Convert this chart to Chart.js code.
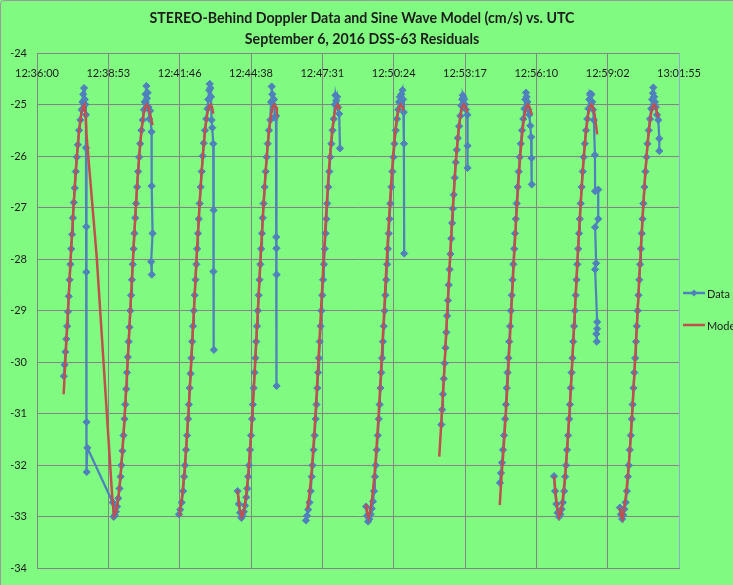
<!DOCTYPE html>
<html lang="en">

<head>
    <meta charset="UTF-8">
    <title>STEREO-Behind Doppler Residuals</title>
    <style>
        body {
            margin: 0;
            background: #80fa80;
            overflow: hidden;
        }

        canvas {
            display: block;
        }
    </style>
</head>

<body>
    <canvas id="doppler" width="733" height="585"></canvas>

    <script src="https://cdn.jsdelivr.net/npm/chart.js"></script>
    <script>
        // Time is seconds after 12:36:00 UTC, value is residual in cm/s.
        // Passes 1 and 2 have no blank row between them in the sheet.
        const dataPass1 = [[65, -30.27], [67, -30.05], [69, -29.8], [71, -29.55], [73, -29.3], [75, -29.02], [77, -28.72], [79, -28.4], [81, -28.1], [83, -27.8], [85, -27.52], [87, -27.2], [89, -26.9], [91.5, -26.62], [94, -26.3], [96.5, -26.02], [99, -25.78], [102, -25.5], [105, -25.3], [108, -25.1], [110, -24.95], [112, -24.8], [114, -24.68], [115.5, -24.9], [117, -25.0], [118.5, -25.2], [118.7, -25.84], [119.5, -27.37], [119.5, -28.25], [120, -31.16], [120.5, -32.13], [122, -31.66]];
        const dataPass2 = [[183.5, -32.72], [186, -33.0], [188.5, -32.97], [191, -32.9], [194, -32.8], [197, -32.64], [200, -32.45], [202.5, -32.22], [204.5, -32.0], [207, -31.72], [209.5, -31.42], [212, -31.1], [214, -30.82], [216, -30.52], [218, -30.2], [220, -29.9], [222, -29.6], [224, -29.32], [226, -29.0], [228, -28.7], [230, -28.4], [232, -28.1], [234, -27.8], [236, -27.5], [238, -27.2], [240, -26.92], [242.5, -26.6], [245, -26.3], [247.5, -26.02], [250, -25.76], [253, -25.5], [256, -25.3], [259, -25.1], [261, -24.95], [263, -24.8], [265, -24.64], [266.5, -24.88], [268, -24.77], [270, -25.05], [272, -25.28], [274, -25.12], [277.5, -25.53], [277.8, -26.58], [280, -27.5], [276.5, -28.05], [278, -28.3]];
        const dataPass3 = [[344, -32.95], [347, -32.86], [350.5, -32.72], [354, -32.5], [356.5, -32.22], [358.5, -32.0], [361, -31.7], [363.5, -31.42], [366, -31.1], [368, -30.82], [370, -30.5], [372, -30.22], [374, -29.92], [376, -29.6], [378, -29.3], [380, -29.0], [382, -28.7], [384, -28.4], [386, -28.1], [388, -27.8], [390, -27.5], [392, -27.22], [394, -26.92], [396.5, -26.6], [399, -26.3], [401.5, -26.0], [404, -25.75], [407, -25.5], [410, -25.28], [413, -25.08], [415, -24.9], [417, -24.72], [418.5, -24.6], [420, -24.68], [421.5, -24.85], [423, -25.3], [424.5, -25.45], [427, -25.76], [428, -27.05], [427.5, -28.24], [428.5, -29.76]];
        const dataPass4 = [[486, -32.5], [489, -32.75], [492, -32.92], [495, -33.02], [498, -32.98], [501, -32.9], [504, -32.78], [507, -32.62], [509.5, -32.45], [511.5, -32.22], [513.5, -32.0], [516, -31.7], [518.5, -31.42], [521, -31.1], [523, -30.82], [525, -30.5], [527, -30.2], [529, -29.92], [531, -29.6], [533, -29.3], [535, -29.0], [537, -28.7], [539, -28.4], [541, -28.1], [543, -27.8], [545, -27.5], [547, -27.2], [549, -26.92], [551.5, -26.6], [554, -26.3], [556.5, -26.02], [559, -25.76], [562, -25.5], [565, -25.3], [567, -24.95], [568.5, -24.65], [570, -24.8], [572, -25.0], [574, -24.9], [576, -25.25], [579, -25.22], [579.5, -27.57], [580, -27.79], [580.5, -28.3], [580.5, -30.46]];
        const dataPass5 = [[651.5, -33.07], [654, -32.98], [657, -32.86], [660, -32.72], [663, -32.5], [665.5, -32.22], [667.5, -32.0], [670, -31.7], [672.5, -31.42], [675, -31.1], [677, -30.82], [679, -30.5], [681, -30.2], [683, -29.92], [685, -29.6], [687, -29.3], [689, -29.0], [691, -28.7], [693, -28.4], [695, -28.1], [697, -27.8], [699, -27.5], [701, -27.22], [703, -26.92], [705.5, -26.6], [708, -26.3], [710.5, -26.02], [713, -25.76], [716, -25.5], [719, -25.28], [721.5, -25.0], [723, -24.82], [725, -24.92], [727, -24.85], [729, -25.05], [732, -25.18], [734, -25.85]];
        const dataPass6 = [[797, -32.8], [799.5, -32.98], [802, -33.09], [805, -33.04], [808, -32.95], [811, -32.84], [814, -32.7], [816.5, -32.5], [818.5, -32.22], [820.5, -32.0], [823, -31.7], [825.5, -31.42], [828, -31.1], [830, -30.82], [832, -30.5], [834, -30.2], [836, -29.92], [838, -29.6], [840, -29.3], [842, -29.0], [844, -28.7], [846, -28.4], [848, -28.1], [850, -27.8], [852, -27.5], [854, -27.22], [856, -26.92], [858.5, -26.6], [861, -26.3], [863.5, -26.02], [866, -25.76], [869, -25.5], [872, -25.28], [875, -25.1], [877, -24.95], [879, -24.85], [881, -24.95], [883, -24.8], [885.5, -24.72], [887, -24.9], [888.5, -25.15], [889, -25.76], [889.5, -27.89]];
        const dataPass7 = [[979.5, -31.21], [981.5, -30.92], [983.5, -30.62], [985.5, -30.32], [987.5, -30.02], [989.5, -29.72], [991.5, -29.42], [993.5, -29.1], [995.5, -28.8], [997.5, -28.5], [999.5, -28.2], [1001.5, -27.9], [1003.5, -27.6], [1005.5, -27.3], [1007.5, -27.02], [1009.5, -26.75], [1012, -26.42], [1014.5, -26.12], [1017, -25.88], [1019.5, -25.65], [1022.5, -25.42], [1025.5, -25.22], [1028, -25.02], [1030, -24.9], [1031.5, -24.82], [1033, -24.86], [1035, -24.9], [1037, -25.0], [1039, -25.1], [1042.5, -25.2], [1043, -25.8], [1043, -26.23]];
        const dataPass8 = [[1121.5, -32.34], [1124, -32.15], [1126.5, -31.95], [1129, -31.7], [1131.5, -31.42], [1134, -31.1], [1136, -30.82], [1138, -30.5], [1140, -30.2], [1142, -29.92], [1144, -29.6], [1146, -29.3], [1148, -29.0], [1150, -28.7], [1152, -28.4], [1154, -28.1], [1156, -27.8], [1158, -27.5], [1160, -27.22], [1162, -26.92], [1164.5, -26.6], [1167, -26.3], [1169.5, -26.02], [1172, -25.76], [1175, -25.5], [1178, -25.28], [1181, -25.08], [1183, -24.9], [1184.5, -24.77], [1186, -24.85], [1188, -24.95], [1190, -25.1], [1192.5, -25.2], [1195, -25.41], [1197, -25.63], [1198, -26.04], [1198.5, -26.55]];
        const dataPass9 = [[1252.5, -32.21], [1255, -32.5], [1258, -32.75], [1261, -32.92], [1264.5, -33.0], [1268, -32.95], [1271, -32.85], [1274, -32.72], [1277, -32.5], [1279.5, -32.22], [1281.5, -32.0], [1284, -31.7], [1286.5, -31.42], [1289, -31.1], [1291, -30.82], [1293, -30.5], [1295, -30.2], [1297, -29.92], [1299, -29.6], [1301, -29.3], [1303, -29.0], [1305, -28.7], [1307, -28.4], [1309, -28.1], [1311, -27.8], [1313, -27.5], [1315, -27.22], [1317, -26.92], [1319.5, -26.6], [1322, -26.3], [1324.5, -26.02], [1327, -25.76], [1330, -25.5], [1333, -25.28], [1336, -25.08], [1338, -24.9], [1339.5, -24.79], [1341, -24.82], [1343, -24.8], [1345, -24.95], [1347, -25.1], [1349, -25.3], [1351.5, -25.98], [1352, -26.68], [1359.5, -26.65], [1359.5, -27.22], [1352, -27.38], [1354.5, -28.08], [1352, -28.2], [1357, -29.22], [1355, -29.45], [1356, -29.6], [1357, -29.35]];
        const dataPass10 = [[1412, -32.82], [1414.5, -32.95], [1417.5, -33.04], [1420, -32.96], [1423, -32.85], [1426, -32.72], [1429, -32.5], [1431.5, -32.22], [1433.5, -32.0], [1436, -31.7], [1438.5, -31.42], [1441, -31.1], [1443, -30.82], [1445, -30.5], [1447, -30.2], [1449, -29.92], [1451, -29.6], [1453, -29.3], [1455, -29.0], [1457, -28.7], [1459, -28.4], [1461, -28.1], [1463, -27.8], [1465, -27.5], [1467, -27.22], [1469, -26.92], [1471.5, -26.6], [1474, -26.3], [1476.5, -26.02], [1479, -25.76], [1482, -25.5], [1485, -25.28], [1488, -25.08], [1490, -24.9], [1492, -24.78], [1493, -24.67], [1495, -24.85], [1497, -24.95], [1499, -25.05], [1502, -25.2], [1505, -25.3], [1507.5, -25.66], [1507.5, -25.9]];

        const modelPass1 = [[64.5, -30.62], [67, -30.24], [71, -29.63], [75, -29.0], [79, -28.37], [83, -27.76], [88, -27.05], [93, -26.4], [97, -25.96], [102, -25.51], [107, -25.2], [111, -25.05], [115, -25.0], [118, -25.2], [120, -25.6], [144.6, -27.95], [182.4, -32.63]];
        const modelPass2 = [[187, -32.98], [192, -32.89], [197, -32.63], [202, -32.24], [206, -31.83], [210, -31.35], [214, -30.82], [218, -30.24], [222, -29.63], [226, -29.0], [230, -28.37], [234, -27.76], [239, -27.05], [244, -26.4], [248, -25.96], [253, -25.51], [258, -25.2], [262, -25.05], [266, -25.0], [270, -25.05], [274, -25.2], [280, -25.4]];
        const modelPass3 = [[344, -32.97], [346, -32.89], [351, -32.63], [356, -32.24], [360, -31.83], [364, -31.35], [368, -30.82], [372, -30.24], [376, -29.63], [380, -29.0], [384, -28.37], [388, -27.76], [393, -27.05], [398, -26.4], [402, -25.96], [407, -25.51], [412, -25.2], [416, -25.05], [420, -25.0], [424, -25.05], [427, -25.18]];
        const modelPass4 = [[486, -32.48], [491, -32.85], [496, -33.0], [501, -32.89], [506, -32.63], [511, -32.24], [515, -31.83], [519, -31.35], [523, -30.82], [527, -30.24], [531, -29.63], [535, -29.0], [539, -28.37], [543, -27.76], [548, -27.05], [553, -26.4], [557, -25.96], [562, -25.51], [567, -25.2], [571, -25.05], [575, -25.0], [579, -25.05], [581, -25.12]];
        const modelPass5 = [[654.5, -32.86], [659, -32.63], [664, -32.24], [668, -31.83], [672, -31.35], [676, -30.82], [680, -30.24], [684, -29.63], [688, -29.0], [692, -28.37], [696, -27.76], [701, -27.05], [706, -26.4], [710, -25.96], [715, -25.51], [720, -25.2], [724, -25.05], [728, -25.0], [732, -25.05], [734, -25.1]];
        const modelPass6 = [[797, -32.75], [800, -32.92], [803, -33.02], [807, -32.89], [812, -32.63], [817, -32.24], [821, -31.83], [825, -31.35], [829, -30.82], [833, -30.24], [837, -29.63], [841, -29.0], [845, -28.37], [849, -27.76], [854, -27.05], [859, -26.4], [863, -25.96], [868, -25.51], [873, -25.2], [877, -25.05], [881, -25.0], [885, -25.05], [888, -25.12]];
        const modelPass7 = [[974.5, -31.83], [978, -31.35], [982, -30.82], [986, -30.24], [990, -29.63], [994, -29.0], [998, -28.37], [1002, -27.76], [1007, -27.05], [1012, -26.4], [1016, -25.96], [1021, -25.51], [1026, -25.2], [1030, -25.05], [1034, -25.0], [1038, -25.05], [1042.5, -25.15]];
        const modelPass8 = [[1121, -32.77], [1125, -32.24], [1129, -31.83], [1133, -31.35], [1137, -30.82], [1141, -30.24], [1145, -29.63], [1149, -29.0], [1153, -28.37], [1157, -27.76], [1162, -27.05], [1167, -26.4], [1171, -25.96], [1176, -25.51], [1181, -25.2], [1185, -25.05], [1189, -25.0], [1193, -25.05], [1199, -25.2]];
        const modelPass9 = [[1252.5, -32.21], [1257, -32.6], [1261, -32.85], [1265, -33.0], [1269, -32.92], [1274, -32.63], [1279, -32.24], [1283, -31.83], [1287, -31.35], [1291, -30.82], [1295, -30.24], [1299, -29.63], [1303, -29.0], [1307, -28.37], [1311, -27.76], [1316, -27.05], [1321, -26.4], [1325, -25.96], [1330, -25.51], [1335, -25.2], [1339, -25.05], [1343, -25.0], [1347, -25.05], [1351, -25.2], [1357, -25.58]];
        const modelPass10 = [[1412, -32.82], [1415, -32.98], [1418.5, -33.04], [1421, -32.89], [1426, -32.63], [1431, -32.24], [1435, -31.83], [1439, -31.35], [1443, -30.82], [1447, -30.24], [1451, -29.63], [1455, -29.0], [1459, -28.37], [1463, -27.76], [1468, -27.05], [1473, -26.4], [1477, -25.96], [1482, -25.51], [1487, -25.2], [1491, -25.05], [1495, -25.0], [1499, -25.05], [1503, -25.2], [1506.5, -25.25]];

        const xTickLabels = ["12:36:00", "12:38:53", "12:41:46", "12:44:38", "12:47:31", "12:50:24", "12:53:17", "12:56:10", "12:59:02", "13:01:55"];
        const xTickStep = 172.8; // Excel major unit of 0.002 day
        const titleLines = ["STEREO-Behind Doppler Data and Sine Wave Model (cm/s) vs. UTC", "September 6, 2016 DSS-63 Residuals"];

        const dataRuns = [dataPass1, dataPass2, dataPass3, dataPass4, dataPass5, dataPass6, dataPass7, dataPass8, dataPass9, dataPass10];
        const modelRuns = [modelPass1, modelPass2, modelPass3, modelPass4, modelPass5, modelPass6, modelPass7, modelPass8, modelPass9, modelPass10];

        const blue = "#4f81bd";
        const red = "#c0504d";
        const gridGray = "#858585";
        const textColor = "#1c1c1c";
        const font = "Lato, 'Liberation Sans', sans-serif";

        // blank row (null) between passes, except between the first two
        function toPoints(runs) {
            const pts = [];
            runs.forEach((run, i) => {
                if (i > 1) pts.push({ x: run[0][0], y: null });
                run.forEach(([t, v]) => pts.push({ x: t, y: v }));
            });
            return pts;
        }

        // one colour per vertical gridline, the plot-area edge is bluish
        const xGridColors = xTickLabels.map((_, i) => i === xTickLabels.length - 1 ? "#8fa9cf" : gridGray);

        // Excel-style decorations: green fill, title, top axis labels, legend
        const excelDecor = {
            id: "excelDecor",
            beforeDraw(chart) {
                const c = chart.ctx;
                c.save();
                c.fillStyle = "#80fa80";
                c.fillRect(0, 0, chart.width, chart.height);
                c.strokeStyle = "#9a9a9a";
                c.lineWidth = 1;
                c.beginPath();
                c.moveTo(0.5, chart.height);
                c.lineTo(0.5, 4);
                c.quadraticCurveTo(0.5, 0.5, 4, 0.5);
                c.lineTo(chart.width, 0.5);
                c.stroke();
                c.restore();
            },
            afterDraw(chart) {
                const c = chart.ctx;
                const area = chart.chartArea;
                const xs = chart.scales.x;
                c.save();

                c.fillStyle = textColor;
                c.textAlign = "center";
                c.textBaseline = "middle";
                c.font = "bold 14.2px " + font;
                titleLines.forEach((line, i) => c.fillText(line, 362, 18 + i * 21));

                c.font = "11px " + font;
                xTickLabels.forEach((label, i) => {
                    c.fillText(label, xs.getPixelForValue(i * xTickStep), area.top + 20);
                });

                // legend, cut off by the right edge as in the source
                const items = [
                    { label: chart.data.datasets[0].label, color: blue, marker: true, y: 293 },
                    { label: chart.data.datasets[1].label, color: red, marker: false, y: 325 }
                ];
                c.textAlign = "left";
                c.font = "11px " + font;
                items.forEach(item => {
                    c.strokeStyle = item.color;
                    c.lineWidth = 2.5;
                    c.beginPath();
                    c.moveTo(683, item.y);
                    c.lineTo(705, item.y);
                    c.stroke();
                    if (item.marker) {
                        c.fillStyle = item.color;
                        c.beginPath();
                        c.moveTo(694, item.y - 3.5);
                        c.lineTo(697.5, item.y);
                        c.lineTo(694, item.y + 3.5);
                        c.lineTo(690.5, item.y);
                        c.closePath();
                        c.fill();
                    }
                    c.fillStyle = textColor;
                    c.fillText(item.label, 707, item.y + 1);
                });
                c.restore();
            }
        };

        new Chart(document.getElementById("doppler").getContext("2d"), {
            type: "line",
            data: {
                datasets: [
                    {
                        label: "Data",
                        data: toPoints(dataRuns),
                        borderColor: blue,
                        backgroundColor: blue,
                        borderWidth: 2.25,
                        pointStyle: "rectRot",
                        pointRadius: 3.6,
                        pointBorderWidth: 1,
                        tension: 0,
                        order: 2
                    },
                    {
                        label: "Model",
                        data: toPoints(modelRuns),
                        borderColor: red,
                        backgroundColor: red,
                        borderWidth: 2.5,
                        pointRadius: 0,
                        tension: 0,
                        order: 1
                    }
                ]
            },
            options: {
                responsive: false,
                animation: false,
                spanGaps: false,
                layout: {
                    padding: { top: 53, right: 54, bottom: 8, left: 0 }
                },
                plugins: {
                    legend: { display: false },
                    title: { display: false },
                    tooltip: { enabled: false }
                },
                scales: {
                    x: {
                        type: "linear",
                        min: 0,
                        max: xTickStep * (xTickLabels.length - 1),
                        afterBuildTicks: scale => {
                            scale.ticks = xTickLabels.map((_, i) => ({ value: i * xTickStep }));
                        },
                        afterFit: scale => { scale.height = 0; },
                        ticks: { display: false },
                        grid: {
                            drawTicks: false,
                            color: xGridColors
                        },
                        border: { color: gridGray }
                    },
                    y: {
                        min: -34,
                        max: -24,
                        afterFit: scale => { scale.width = 37; },
                        ticks: {
                            stepSize: 1,
                            padding: 10,
                            color: textColor,
                            font: { family: font, size: 11 }
                        },
                        grid: { drawTicks: false, color: gridGray },
                        border: { color: gridGray }
                    }
                }
            },
            plugins: [excelDecor]
        });
    </script>
</body>

</html>
